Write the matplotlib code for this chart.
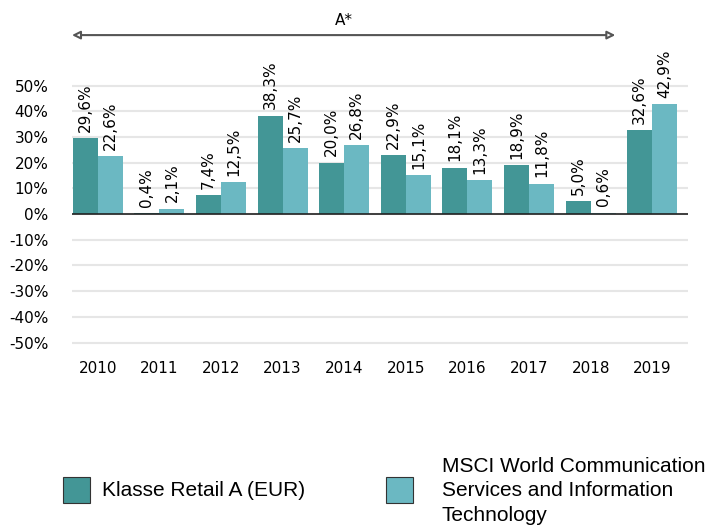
import matplotlib.pyplot as plt
from matplotlib.patches import Rectangle
import numpy as np

years = ["2010", "2011", "2012", "2013", "2014", "2015", "2016", "2017", "2018", "2019"]
fund = [29.6, 0.4, 7.4, 38.3, 20.0, 22.9, 18.1, 18.9, 5.0, 32.6]
index = [22.6, 2.1, 12.5, 25.7, 26.8, 15.1, 13.3, 11.8, 0.6, 42.9]
yticks = [-50, -40, -30, -20, -10, 0, 10, 20, 30, 40, 50]

fund_name = "Klasse Retail A (EUR)"
index_name = "MSCI World Communication\nServices and Information\nTechnology"

dark = "#439696"
light = "#6bb8c2"

fig = plt.figure(figsize=(7.11, 5.26), dpi=100)
ax = fig.add_axes([72 / 711, 1 - 355.4 / 526, 616 / 711, 282.7 / 526])

x = np.arange(len(years))
w = 0.406
ax.bar(x - w / 2, fund, w, color=dark, zorder=2)
ax.bar(x + w / 2, index, w, color=light, zorder=2)

# value labels
for xs, vals in ((x - w / 2, fund), (x + w / 2, index)):
    for xi, v in zip(xs, vals):
        ax.annotate(f"{v:.1f}%".replace(".", ","), (xi, v), xytext=(0, 4.5),
                    textcoords="offset points", rotation=90, ha="center",
                    va="bottom", fontsize=11)

ax.set_xlim(-0.42, 9.58)
ax.set_ylim(-55, 55)
ax.set_xticks(x)
ax.set_xticklabels(years, fontsize=11)
ax.set_yticks(yticks)
ax.set_yticklabels([f"{t}%" for t in yticks], fontsize=11)
ax.tick_params(axis="both", length=0)
ax.tick_params(axis="y", pad=17)
ax.tick_params(axis="x", pad=4)
for s in ax.spines.values():
    s.set_visible(False)
ax.grid(axis="y", color="#e6e6e6", linewidth=1.5, zorder=0)
ax.axhline(0, color="#222222", linewidth=1.2, zorder=3)

# period arrow
trans = ax.get_xaxis_transform()
ax.annotate("", xy=(8.4, 1.133), xytext=(-0.42, 1.133), xycoords=trans,
            textcoords=trans, annotation_clip=False,
            arrowprops=dict(arrowstyle="<|-|>", color="#555555", fc="white",
                            lw=1.5, mutation_scale=12, shrinkA=0, shrinkB=0))
ax.text(3.99, 1.186, "A*", transform=trans, ha="center", va="center", fontsize=11)

# legend
fig.patches.append(Rectangle((63 / 711, 1 - 503 / 526), 27 / 711, 26 / 526,
                             transform=fig.transFigure, fc=dark, ec="#333333", lw=0.8))
fig.patches.append(Rectangle((386 / 711, 1 - 503 / 526), 27 / 711, 26 / 526,
                             transform=fig.transFigure, fc=light, ec="#333333", lw=0.8))
fig.text(102 / 711, 1 - 490 / 526, fund_name, ha="left", va="center",
         fontsize=15, family="Liberation Sans")
fig.text(442 / 711, 1 - 491 / 526, index_name, ha="left", va="center",
         fontsize=15, family="Liberation Sans", linespacing=1.36)

fig.savefig("out.png", dpi=100)
